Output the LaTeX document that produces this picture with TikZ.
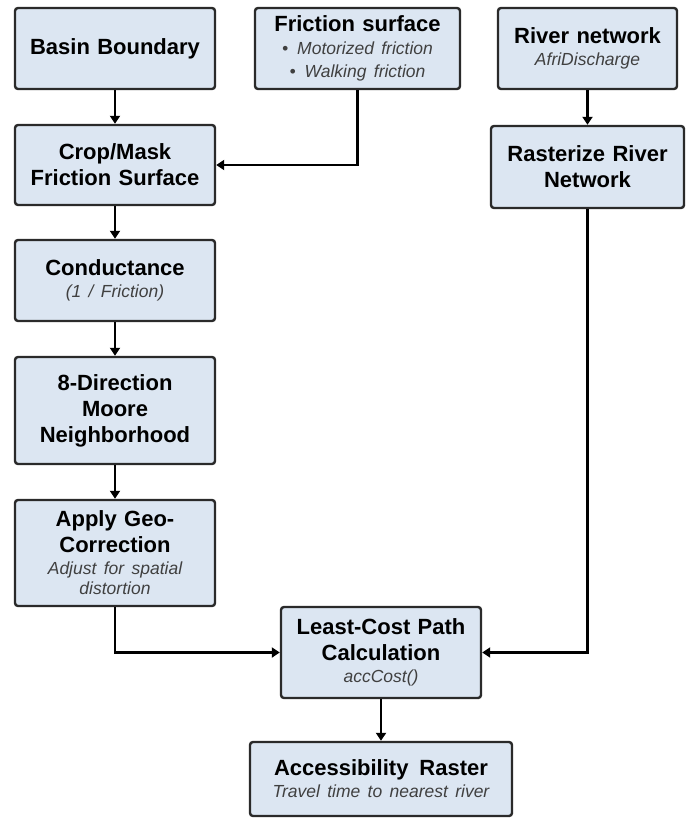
\documentclass[tikz,border=0pt]{standalone}
\usepackage{fontspec}
\setmainfont{Liberation Sans}
\usetikzlibrary{arrows.meta}
\definecolor{boxfill}{HTML}{DCE6F2}
\definecolor{boxdraw}{HTML}{2A2A2A}
\definecolor{subgray}{HTML}{404040}
\newcommand{\ttl}{\fontsize{22}{26}\selectfont\bfseries}
\newcommand{\sbt}[1]{{\fontsize{17.5}{20}\selectfont\mdseries\itshape\color{subgray}#1}}
\tikzset{
  box/.style={draw=boxdraw, fill=boxfill, line width=2.4pt, rounded corners=3pt,
    align=center, inner sep=2pt, font=\ttl},
  arr/.style={draw=black, line width=2.8pt, -{Triangle[length=8pt,width=10pt]}}
}
\begin{document}
\begin{tikzpicture}[x=1pt,y=1pt]
\useasboundingbox[fill=white] (0,0) rectangle (690,-818);
\node[box, minimum width=200, minimum height=81, text width=194] (basin) at (115,-48.5) {Basin Boundary};
\node[box, minimum width=205, minimum height=81, text width=199] (fric) at (357.5,-48.5) {Friction surface\\[-3pt]
  \sbt{\textbullet\hspace{9pt}Motorized friction}\\[-3pt]\sbt{\textbullet\hspace{9pt}Walking friction}};
\node[box, minimum width=179, minimum height=81, text width=173] (river) at (587.5,-48.5) {River network\\[-4pt]\sbt{AfriDischarge}};
\node[box, minimum width=200, minimum height=80, text width=194] (crop) at (115,-165) {Crop/Mask\\Friction Surface};
\node[box, minimum width=193, minimum height=82, text width=187] (raster) at (587.5,-167) {Rasterize River\\Network};
\node[box, minimum width=200, minimum height=81, text width=194] (cond) at (115,-280.5) {Conductance\\[-4pt]\sbt{(1 / Friction)}};
\node[box, minimum width=200, minimum height=107, text width=194] (moore) at (115,-410.5) {8-Direction\\Moore\\Neighborhood};
\node[box, minimum width=200, minimum height=106, text width=194] (geo) at (115,-553) {Apply Geo-\\Correction\\[-4pt]\sbt{Adjust for spatial}\\[-6pt]\sbt{distortion}};
\node[box, minimum width=200, minimum height=91, text width=194] (lcp) at (381,-652.5) {Least-Cost Path\\Calculation\\[-4pt]\sbt{accCost()}};
\node[box, minimum width=262, minimum height=74, text width=256] (acc) at (381,-779) {Accessibility\ \,Raster\\[-4pt]\sbt{Travel time to nearest river}};
\draw[arr] (basin) -- (crop);
\draw[arr] (fric.south) |- (crop.east);
\draw[arr] (river) -- (raster);
\draw[arr] (crop) -- (cond);
\draw[arr] (cond) -- (moore);
\draw[arr] (moore) -- (geo);
\draw[arr] (geo.south) |- (lcp.west);
\draw[arr] (raster.south) |- (lcp.east);
\draw[arr] (lcp) -- (acc);
\end{tikzpicture}
\end{document}
